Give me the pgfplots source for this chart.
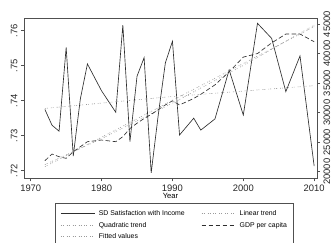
\documentclass[border=0pt]{standalone}
\usepackage{pgfplots}
\pgfplotsset{compat=1.18}
\usepackage{fontspec}
\setmainfont{Liberation Sans}
\definecolor{sdcol}{HTML}{2E2E2E}
\definecolor{trendcol}{HTML}{9A9A9A}
\definecolor{framecol}{HTML}{505050}
\tikzset{
  sdline/.style={draw=sdcol, line width=0.65pt},
  gdpline/.style={draw=sdcol, line width=0.65pt, dash pattern=on 4.5pt off 2.5pt},
  trendline/.style={draw=trendcol, line width=0.6pt, dash pattern=on 0.9pt off 1.1pt on 0.9pt off 3pt},
}
\begin{document}
\begin{tikzpicture}[x=1pt,y=1pt]
\useasboundingbox (-24,-63.7) rectangle (307,178.3);
\begin{axis}[
  scale only axis, width=293pt, height=160pt,
  xmin=1969.05, xmax=2010.4,
  ymin=0.71783, ymax=0.76354,
  axis line style={framecol, line width=0.6pt},
  tick style={framecol, line width=0.6pt},
  tick align=outside, major tick length=3pt,
  xtick pos=left, ytick pos=left,
  xtick={1970,1980,1990,2000,2010},
  xticklabels={1970,1980,1990,2000,2010},
  ytick={0.72,0.73,0.74,0.75,0.76},
  yticklabels={.72,.73,.74,.75,.76},
  /pgf/number format/assume math mode=true,
  tick label style={font=\fontsize{9.4}{10}\selectfont, text=black!85},
  yticklabel style={rotate=90, anchor=south},
  xlabel={Year},
  xlabel style={font=\fontsize{7.6}{8}\selectfont, yshift=5pt},
  minor tick num=0,
]
\addplot[sdline] coordinates {
(1972,0.7375) (1973,0.7330) (1974,0.7313) (1975,0.7552) (1976,0.7242)
(1977,0.7405) (1978,0.7505) (1980,0.7428) (1982,0.7367) (1983,0.7616)
(1984,0.7283) (1985,0.7470) (1986,0.7523) (1987,0.7194) (1988,0.7360)
(1989,0.7508) (1990,0.7570) (1991,0.7302) (1993,0.7350) (1994,0.7316)
(1996,0.7348) (1998,0.7488) (2000,0.7359) (2002,0.7621) (2004,0.7578)
(2006,0.7426) (2008,0.7528) (2010,0.7213)
};
\addplot[trendline] coordinates {
(1972,0.7378) (1990,0.7412) (2010,0.7443)
};
\end{axis}
\begin{axis}[
  scale only axis, width=293pt, height=160pt,
  xmin=1969.05, xmax=2010.4,
  ymin=18883, ymax=45965,
  axis x line=none,
  axis y line*=right,
  axis line style={framecol, line width=0.6pt},
  tick style={framecol, line width=0.6pt},
  tick align=outside, major tick length=3pt,
  ytick={20000,25000,30000,35000,40000,45000},
  yticklabels={20000,25000,30000,35000,40000,45000},
  scaled y ticks=false,
  /pgf/number format/assume math mode=true,
  tick label style={font=\fontsize{9.4}{10}\selectfont, text=black!85},
  yticklabel style={rotate=90, anchor=north},
  legend columns=2,
  legend cell align=left,
  legend image code/.code={\draw[#1] (0pt,0pt) -- (34pt,0pt);},
  legend style={
    at={(0.5126,-0.156)}, anchor=north,
    draw=framecol, line width=0.5pt,
    font=\fontsize{6.9}{8}\selectfont,
    inner xsep=5.3pt, inner ysep=6pt,
    row sep=3pt,
    nodes={inner sep=1pt, text height=5pt, text depth=1.5pt},
    /tikz/every odd column/.append style={column sep=2.7pt},
    /tikz/every even column/.append style={column sep=15.6pt},
  },
]
\addlegendimage{sdline}
\addlegendentry{SD Satisfaction with Income}
\addlegendimage{trendline}
\addlegendentry{Linear trend}
\addplot[trendline] coordinates {
(1972,21200) (1980,25600) (1990,31600) (2000,38000) (2010,44800)
};
\addlegendentry{Quadratic trend}
\addplot[gdpline] coordinates {
(1972,21860) (1973,22990) (1974,22540) (1975,22260) (1976,23380)
(1977,24230) (1978,25080) (1980,25360) (1982,25080) (1983,25930)
(1984,27300) (1985,28200) (1986,29000) (1987,29700) (1988,30500)
(1989,31300) (1990,32000) (1991,31300) (1993,32400) (1994,33100)
(1996,34700) (1998,36900) (2000,39400) (2002,40000) (2004,41800)
(2006,43300) (2008,43300) (2010,42000)
};
\addlegendentry{GDP per capita}
\addplot[trendline] coordinates {
(1972,20850) (1990,32080) (2010,44550)
};
\addlegendentry{Fitted values}
\end{axis}
\end{tikzpicture}
\end{document}
